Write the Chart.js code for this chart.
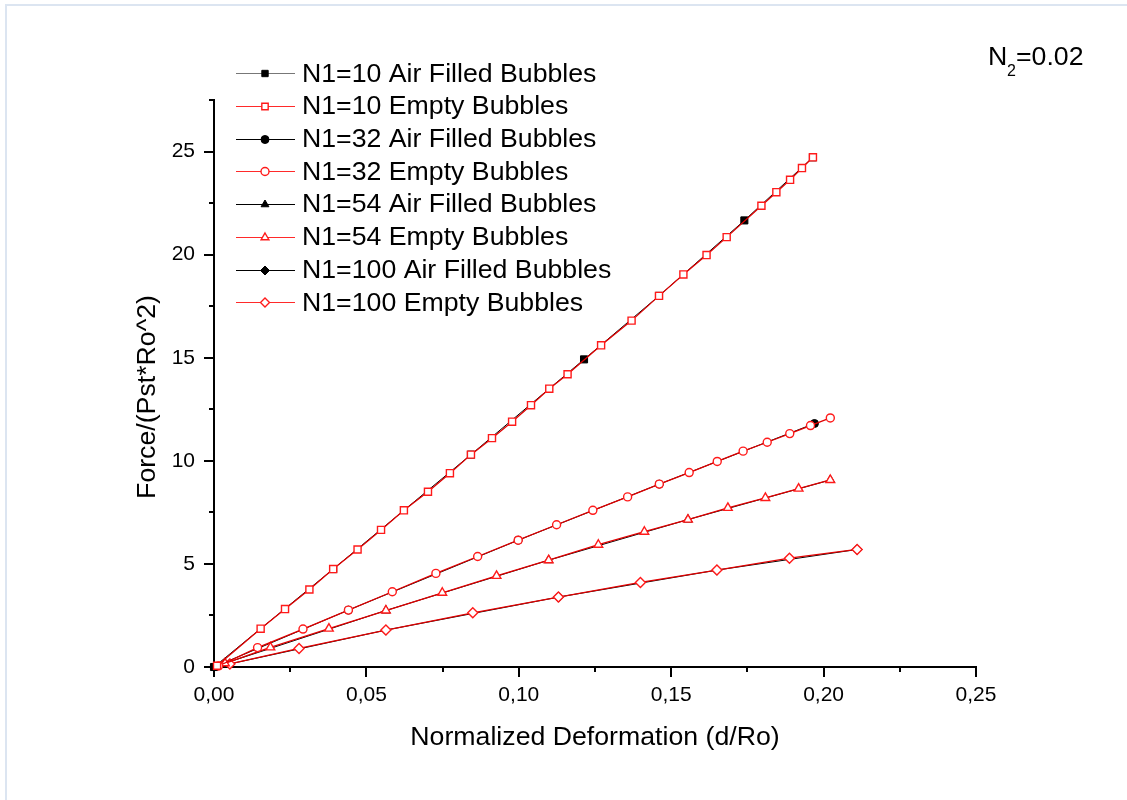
<!DOCTYPE html>
<html>
<head>
<meta charset="utf-8">
<script src="https://cdn.jsdelivr.net/npm/chart.js@4.4.0/dist/chart.umd.min.js"></script>
<style>
    html, body { margin: 0; padding: 0; background: #fff; }
    #wrap { width: 1127px; height: 800px; position: relative; }
</style>
</head>
<body>
<div id="wrap"><canvas id="forceChart" width="1127" height="800"></canvas></div>
<script>
// Force vs. deformation data
const xTicks = [0, 0.05, 0.10, 0.15, 0.20, 0.25];
const yTicks = [0, 5, 10, 15, 20, 25];

const empty10X = [0.001, 0.0153, 0.0233, 0.0313, 0.0391, 0.0471, 0.0548, 0.0623, 0.0702, 0.0774, 0.0843, 0.0912, 0.0978, 0.104, 0.110, 0.116, 0.127, 0.137, 0.146, 0.154, 0.1616, 0.1682, 0.1796, 0.1845, 0.189, 0.1929, 0.1965];
const empty10Y = [0.06, 1.86, 2.81, 3.76, 4.75, 5.70, 6.65, 7.6, 8.5, 9.4, 10.3, 11.1, 11.9, 12.7, 13.5, 14.2, 15.6, 16.8, 18.0, 19.04, 19.98, 20.85, 22.37, 23.03, 23.63, 24.2, 24.72];
const air10X = [0, 0.0391, 0.0843, 0.1214, 0.146, 0.174, 0.1965];
const air10Y = [0, 4.75, 10.3, 14.92, 18.0, 21.66, 24.72];

const empty32X = [0.0015, 0.0143, 0.0292, 0.0441, 0.0585, 0.0728, 0.0865, 0.0998, 0.1124, 0.1243, 0.1357, 0.1461, 0.1559, 0.1651, 0.1736, 0.1815, 0.1889, 0.1957, 0.2022];
const empty32Y = [0.05, 0.94, 1.84, 2.76, 3.65, 4.54, 5.36, 6.15, 6.9, 7.6, 8.25, 8.87, 9.43, 9.97, 10.47, 10.9, 11.32, 11.71, 12.08];
const air32X = [0, 0.0441, 0.0998, 0.1461, 0.197];
const air32Y = [0, 2.76, 6.15, 8.87, 11.81];

const empty54X = [0.0036, 0.0185, 0.0377, 0.0564, 0.0749, 0.0927, 0.1098, 0.1261, 0.1412, 0.1555, 0.1686, 0.1809, 0.1918, 0.2022];
const empty54Y = [0.18, 0.95, 1.86, 2.74, 3.6, 4.42, 5.18, 5.93, 6.56, 7.15, 7.72, 8.2, 8.65, 9.07];
const air54X = [0.0036, 0.0564, 0.1098, 0.1555, 0.2022];
const air54Y = [0.18, 2.74, 5.18, 7.15, 9.07];

const empty100X = [0.0052, 0.0279, 0.0564, 0.0849, 0.113, 0.1399, 0.165, 0.1888, 0.211];
const empty100Y = [0.15, 0.9, 1.79, 2.63, 3.39, 4.1, 4.7, 5.28, 5.7];
const air100X = [0.0052, 0.0564, 0.113, 0.165, 0.211];
const air100Y = [0.15, 1.79, 3.39, 4.7, 5.7];

const seriesLabels = [
    'N1=10 Air Filled Bubbles', 'N1=10 Empty Bubbles',
    'N1=32 Air Filled Bubbles', 'N1=32 Empty Bubbles',
    'N1=54 Air Filled Bubbles', 'N1=54 Empty Bubbles',
    'N1=100 Air Filled Bubbles', 'N1=100 Empty Bubbles'
];

const FONT = "'Liberation Sans', Arial, sans-serif";
const RED = '#e00000';

function toPoints(xs, ys) {
    return xs.map((x, i) => ({ x: x, y: ys[i] }));
}

function airSet(label, xs, ys, style, radius) {
    return {
        label: label,
        data: toPoints(xs, ys),
        borderColor: '#000',
        backgroundColor: '#000',
        borderWidth: 1,
        pointStyle: style,
        pointRadius: radius,
        pointBorderWidth: 1,
        pointBackgroundColor: '#000',
        pointBorderColor: '#000',
        order: 2,
        clip: false
    };
}

function emptySet(label, xs, ys, style, radius) {
    return {
        label: label,
        data: toPoints(xs, ys),
        borderColor: RED,
        backgroundColor: '#fff',
        borderWidth: 1.3,
        pointStyle: style,
        pointRadius: radius,
        pointBorderWidth: 1.4,
        pointBackgroundColor: '#fff',
        pointBorderColor: '#ff1a1a',
        order: 1,
        clip: false
    };
}

const datasets = [
    airSet(seriesLabels[0], air10X, air10Y, 'rect', 5),
    emptySet(seriesLabels[1], empty10X, empty10Y, 'rect', 5),
    airSet(seriesLabels[2], air32X, air32Y, 'circle', 4),
    emptySet(seriesLabels[3], empty32X, empty32Y, 'circle', 4),
    airSet(seriesLabels[4], air54X, air54Y, 'triangle', 5),
    emptySet(seriesLabels[5], empty54X, empty54Y, 'triangle', 5),
    airSet(seriesLabels[6], air100X, air100Y, 'rectRot', 5),
    emptySet(seriesLabels[7], empty100X, empty100Y, 'rectRot', 5)
];

// frame, titles, legend and minor ticks drawn by hand
const decorPlugin = {
    id: 'decor',
    beforeDraw(chart) {
        const ctx = chart.ctx;
        ctx.save();
        ctx.fillStyle = '#fff';
        ctx.fillRect(0, 0, chart.width, chart.height);
        ctx.strokeStyle = '#dce5f1';
        ctx.lineWidth = 2;
        ctx.beginPath();
        ctx.moveTo(6, chart.height);
        ctx.lineTo(6, 5);
        ctx.lineTo(chart.width, 5);
        ctx.stroke();
        ctx.restore();
    },
    afterDraw(chart) {
        const ctx = chart.ctx;
        const xs = chart.scales.x, ys = chart.scales.y;
        ctx.save();

        // minor ticks
        ctx.strokeStyle = '#000';
        ctx.lineWidth = 2;
        for (let v = 0.025; v < 0.25; v += 0.05) {
            const px = Math.round(xs.getPixelForValue(v));
            ctx.beginPath();
            ctx.moveTo(px, xs.top);
            ctx.lineTo(px, xs.top + 5);
            ctx.stroke();
        }
        for (let v = 2.5; v <= 27.5; v += 5) {
            const py = Math.round(ys.getPixelForValue(v));
            ctx.beginPath();
            ctx.moveTo(ys.right, py);
            ctx.lineTo(ys.right - 5, py);
            ctx.stroke();
        }

        // axis titles
        ctx.fillStyle = '#000';
        ctx.font = '26.7px ' + FONT;
        ctx.textAlign = 'center';
        ctx.textBaseline = 'middle';
        ctx.fillText('Normalized Deformation (d/Ro)', 595, 738);
        ctx.save();
        ctx.translate(148, 397);
        ctx.rotate(-Math.PI / 2);
        ctx.fillText('Force/(Pst*Ro^2)', 0, 0);
        ctx.restore();

        // N2 note
        ctx.textAlign = 'left';
        ctx.textBaseline = 'alphabetic';
        ctx.font = '26.7px ' + FONT;
        ctx.fillText('N', 988, 65);
        ctx.font = '16px ' + FONT;
        ctx.fillText('2', 1007, 76);
        ctx.font = '26.7px ' + FONT;
        ctx.fillText('=0.02', 1016, 65);

        // legend
        const rowY0 = 73.3, rowGap = 32.7;
        chart.data.datasets.forEach((ds, i) => {
            const y = rowY0 + i * rowGap;
            const isAir = i % 2 === 0;
            ctx.strokeStyle = isAir ? (i === 0 ? '#777' : '#000') : '#ff2a2a';
            ctx.lineWidth = 1;
            ctx.beginPath();
            ctx.moveTo(236, Math.round(y) + 0.5);
            ctx.lineTo(295, Math.round(y) + 0.5);
            ctx.stroke();
            ctx.fillStyle = isAir ? '#000' : '#fff';
            ctx.strokeStyle = isAir ? '#000' : '#ff1a1a';
            ctx.lineWidth = isAir ? 1 : 1.4;
            Chart.helpers.drawPoint(ctx, {
                pointStyle: ds.pointStyle,
                radius: ds.pointStyle === 'circle' ? 4 : 4.5,
                rotation: 0,
                borderWidth: ctx.lineWidth
            }, 265, Math.round(y) + 0.5);
            ctx.fillStyle = '#000';
            ctx.font = '26.7px ' + FONT;
            ctx.textAlign = 'left';
            ctx.textBaseline = 'middle';
            ctx.fillText(ds.label, 302, y + 1);
        });
        ctx.restore();
    }
};

const chart = new Chart(document.getElementById('forceChart'), {
    type: 'line',
    data: { datasets: datasets },
    options: {
        responsive: false,
        animation: false,
        layout: { padding: { left: 0, top: 100, right: 151, bottom: 0 } },
        plugins: { legend: { display: false }, tooltip: { enabled: false } },
        scales: {
            x: {
                type: 'linear',
                min: 0,
                max: 0.25,
                afterFit: scale => { scale.height = 133; },
                afterBuildTicks: scale => { scale.ticks = xTicks.map(v => ({ value: v })); },
                ticks: {
                    padding: 6,
                    color: '#000',
                    font: { family: FONT, size: 21 },
                    callback: v => v.toFixed(2).replace('.', ',')
                },
                grid: { drawOnChartArea: false, drawTicks: true, tickLength: 10, color: '#000', lineWidth: 2 },
                border: { display: true, color: '#000', width: 2 }
            },
            y: {
                type: 'linear',
                min: 0,
                max: 27.5,
                afterFit: scale => { scale.width = 214; },
                afterBuildTicks: scale => { scale.ticks = yTicks.map(v => ({ value: v })); },
                ticks: {
                    padding: 9,
                    color: '#000',
                    font: { family: FONT, size: 21 }
                },
                grid: { drawOnChartArea: false, drawTicks: true, tickLength: 10, color: '#000', lineWidth: 2 },
                border: { display: true, color: '#000', width: 2 }
            }
        }
    },
    plugins: [decorPlugin]
});
</script>
</body>
</html>
